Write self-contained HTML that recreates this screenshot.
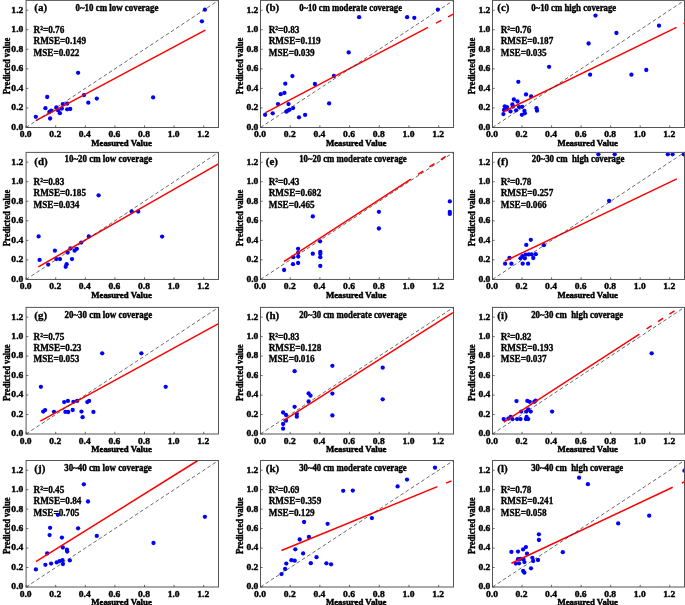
<!DOCTYPE html>
<html lang="en"><head><meta charset="utf-8"><title>Figure</title>
<style>
html,body{margin:0;padding:0;background:#fff;}
body{width:685px;height:605px;overflow:hidden;}
svg{display:block;}
text{font-family:"Liberation Serif", "DejaVu Serif", serif;font-weight:bold;fill:#000;}
.tk{font-size:9.2px;stroke:#000;stroke-width:0.4px;}
.lb{font-size:9.8px;stroke:#000;stroke-width:0.4px;}
.st{stroke-width:0.32px;}
.pl{font-size:11px;stroke:#000;stroke-width:0.3px;}
.al{font-size:9px;stroke:#000;stroke-width:0.45px;}
.yl{font-size:10.3px;stroke:#000;stroke-width:0.4px;}
.fr{fill:none;stroke:#555;stroke-width:1;}
.tm{stroke:#444;stroke-width:0.8;}
.dg{stroke:#2a2a2a;stroke-width:0.7;stroke-dasharray:3.7 2.5;fill:none;}
.rl{stroke:#ff0000;stroke-width:1.5;fill:none;}
.pt{fill:#0000ff;}
</style></head><body>
<svg width="685" height="605" viewBox="0 0 685 605">
<rect width="685" height="605" fill="#fff"/>
<g id="panel-a">
<clipPath id="cp-a"><rect x="26.1" y="0.4" width="192.4" height="127.1"/></clipPath>
<g clip-path="url(#cp-a)"><circle class="pt" cx="35.8" cy="116.8" r="2.15"/><circle class="pt" cx="45.4" cy="108.2" r="2.15"/><circle class="pt" cx="47.2" cy="97" r="2.15"/><circle class="pt" cx="49.4" cy="111.9" r="2.15"/><circle class="pt" cx="51.1" cy="110.7" r="2.15"/><circle class="pt" cx="50.1" cy="118.5" r="2.15"/><circle class="pt" cx="56.4" cy="107.5" r="2.15"/><circle class="pt" cx="58.1" cy="110.4" r="2.15"/><circle class="pt" cx="59.9" cy="113.2" r="2.15"/><circle class="pt" cx="61.8" cy="108.5" r="2.15"/><circle class="pt" cx="62.8" cy="104.1" r="2.15"/><circle class="pt" cx="67.2" cy="103.7" r="2.15"/><circle class="pt" cx="67.2" cy="109.3" r="2.15"/><circle class="pt" cx="70.2" cy="109" r="2.15"/><circle class="pt" cx="78.1" cy="72.8" r="2.15"/><circle class="pt" cx="84" cy="95.1" r="2.15"/><circle class="pt" cx="88.3" cy="102.7" r="2.15"/><circle class="pt" cx="96.8" cy="98.6" r="2.15"/><circle class="pt" cx="153.1" cy="97.4" r="2.15"/><circle class="pt" cx="201.9" cy="21.3" r="2.15"/><circle class="pt" cx="204.9" cy="9.65" r="2.15"/></g>
<line class="rl" x1="35.8" y1="120.6" x2="205.3" y2="30.1"/>
<line class="dg" x1="26.1" y1="127.5" x2="218.5" y2="0.4"/>
<rect class="fr" x="26.1" y="0.4" width="192.4" height="127.1"/>
<line class="tm" x1="26.1" y1="127.5" x2="26.1" y2="125.3"/><line class="tm" x1="26.1" y1="127.5" x2="28.3" y2="127.5"/><text class="tk" text-anchor="middle" transform="translate(25.6 137.2) scale(1.04 1)">0.0</text><text class="tk" text-anchor="end" transform="translate(23.3 129.9) scale(1.04 1)">0.0</text>
<line class="tm" x1="55.7" y1="127.5" x2="55.7" y2="125.3"/><line class="tm" x1="26.1" y1="107.95" x2="28.3" y2="107.95"/><text class="tk" text-anchor="middle" transform="translate(55.2 137.2) scale(1.04 1)">0.2</text><text class="tk" text-anchor="end" transform="translate(23.3 110.35) scale(1.04 1)">0.2</text>
<line class="tm" x1="85.3" y1="127.5" x2="85.3" y2="125.3"/><line class="tm" x1="26.1" y1="88.39" x2="28.3" y2="88.39"/><text class="tk" text-anchor="middle" transform="translate(84.8 137.2) scale(1.04 1)">0.4</text><text class="tk" text-anchor="end" transform="translate(23.3 90.79) scale(1.04 1)">0.4</text>
<line class="tm" x1="114.9" y1="127.5" x2="114.9" y2="125.3"/><line class="tm" x1="26.1" y1="68.84" x2="28.3" y2="68.84"/><text class="tk" text-anchor="middle" transform="translate(114.4 137.2) scale(1.04 1)">0.6</text><text class="tk" text-anchor="end" transform="translate(23.3 71.24) scale(1.04 1)">0.6</text>
<line class="tm" x1="144.5" y1="127.5" x2="144.5" y2="125.3"/><line class="tm" x1="26.1" y1="49.28" x2="28.3" y2="49.28"/><text class="tk" text-anchor="middle" transform="translate(144 137.2) scale(1.04 1)">0.8</text><text class="tk" text-anchor="end" transform="translate(23.3 51.68) scale(1.04 1)">0.8</text>
<line class="tm" x1="174.1" y1="127.5" x2="174.1" y2="125.3"/><line class="tm" x1="26.1" y1="29.73" x2="28.3" y2="29.73"/><text class="tk" text-anchor="middle" transform="translate(173.6 137.2) scale(1.04 1)">1.0</text><text class="tk" text-anchor="end" transform="translate(23.3 32.13) scale(1.04 1)">1.0</text>
<line class="tm" x1="203.7" y1="127.5" x2="203.7" y2="125.3"/><line class="tm" x1="26.1" y1="10.18" x2="28.3" y2="10.18"/><text class="tk" text-anchor="middle" transform="translate(203.2 137.2) scale(1.04 1)">1.2</text><text class="tk" text-anchor="end" transform="translate(23.3 12.58) scale(1.04 1)">1.2</text>
<text class="al" text-anchor="middle" textLength="60.6" lengthAdjust="spacingAndGlyphs" transform="translate(121.5 145.8)">Measured Value</text>
<text class="yl" text-anchor="middle" textLength="56.6" lengthAdjust="spacingAndGlyphs" transform="translate(9.8 65.95) rotate(-90)">Predicted value</text>
<text class="pl" transform="translate(34.3 11.3)">(a)</text>
<text class="lb" textLength="82.9" lengthAdjust="spacingAndGlyphs" transform="translate(75.5 11)">0~10 cm low coverage</text>
<text class="lb st" transform="translate(33.5 33) scale(0.94 1)">R²=0.76</text>
<text class="lb st" transform="translate(33.5 44.3) scale(0.94 1)">RMSE=0.149</text>
<text class="lb st" transform="translate(33.5 55.6) scale(0.94 1)">MSE=0.022</text>
</g>
<g id="panel-b">
<clipPath id="cp-b"><rect x="260.5" y="0.4" width="193" height="127.1"/></clipPath>
<g clip-path="url(#cp-b)"><circle class="pt" cx="265.1" cy="114.8" r="2.15"/><circle class="pt" cx="272.7" cy="113.3" r="2.15"/><circle class="pt" cx="278" cy="104.1" r="2.15"/><circle class="pt" cx="280.7" cy="94.2" r="2.15"/><circle class="pt" cx="284.4" cy="92.9" r="2.15"/><circle class="pt" cx="285.3" cy="83.7" r="2.15"/><circle class="pt" cx="286.3" cy="111.7" r="2.15"/><circle class="pt" cx="287.7" cy="110.7" r="2.15"/><circle class="pt" cx="288.5" cy="104.1" r="2.15"/><circle class="pt" cx="289.6" cy="109.7" r="2.15"/><circle class="pt" cx="293.1" cy="108.1" r="2.15"/><circle class="pt" cx="292.4" cy="76.1" r="2.15"/><circle class="pt" cx="299" cy="117.3" r="2.15"/><circle class="pt" cx="305.1" cy="114.9" r="2.15"/><circle class="pt" cx="314.9" cy="84" r="2.15"/><circle class="pt" cx="329.1" cy="103.4" r="2.15"/><circle class="pt" cx="333.9" cy="76" r="2.15"/><circle class="pt" cx="359.1" cy="17.2" r="2.15"/><circle class="pt" cx="407.1" cy="17.2" r="2.15"/><circle class="pt" cx="414.3" cy="17.8" r="2.15"/><circle class="pt" cx="437.9" cy="9.6" r="2.15"/><circle class="pt" cx="348.7" cy="52.4" r="2.15"/></g>
<line class="rl" x1="265.1" y1="112.9" x2="428" y2="27.3"/>
<clipPath id="cq-b"><rect x="260" y="-0.1" width="194" height="128.1"/></clipPath>
<line class="rl" clip-path="url(#cq-b)" stroke-dasharray="6 7.6" x1="436" y1="23.2" x2="454" y2="13.7"/>
<line class="dg" x1="260.5" y1="127.5" x2="453.5" y2="0.4"/>
<rect class="fr" x="260.5" y="0.4" width="193" height="127.1"/>
<line class="tm" x1="260.5" y1="127.5" x2="260.5" y2="125.3"/><line class="tm" x1="260.5" y1="127.5" x2="262.7" y2="127.5"/><text class="tk" text-anchor="middle" transform="translate(260 137.2) scale(1.04 1)">0.0</text><text class="tk" text-anchor="end" transform="translate(258.4 129.9) scale(1.04 1)">0.0</text>
<line class="tm" x1="290.19" y1="127.5" x2="290.19" y2="125.3"/><line class="tm" x1="260.5" y1="107.95" x2="262.7" y2="107.95"/><text class="tk" text-anchor="middle" transform="translate(289.69 137.2) scale(1.04 1)">0.2</text><text class="tk" text-anchor="end" transform="translate(258.4 110.35) scale(1.04 1)">0.2</text>
<line class="tm" x1="319.88" y1="127.5" x2="319.88" y2="125.3"/><line class="tm" x1="260.5" y1="88.39" x2="262.7" y2="88.39"/><text class="tk" text-anchor="middle" transform="translate(319.38 137.2) scale(1.04 1)">0.4</text><text class="tk" text-anchor="end" transform="translate(258.4 90.79) scale(1.04 1)">0.4</text>
<line class="tm" x1="349.58" y1="127.5" x2="349.58" y2="125.3"/><line class="tm" x1="260.5" y1="68.84" x2="262.7" y2="68.84"/><text class="tk" text-anchor="middle" transform="translate(349.08 137.2) scale(1.04 1)">0.6</text><text class="tk" text-anchor="end" transform="translate(258.4 71.24) scale(1.04 1)">0.6</text>
<line class="tm" x1="379.27" y1="127.5" x2="379.27" y2="125.3"/><line class="tm" x1="260.5" y1="49.28" x2="262.7" y2="49.28"/><text class="tk" text-anchor="middle" transform="translate(378.77 137.2) scale(1.04 1)">0.8</text><text class="tk" text-anchor="end" transform="translate(258.4 51.68) scale(1.04 1)">0.8</text>
<line class="tm" x1="408.96" y1="127.5" x2="408.96" y2="125.3"/><line class="tm" x1="260.5" y1="29.73" x2="262.7" y2="29.73"/><text class="tk" text-anchor="middle" transform="translate(408.46 137.2) scale(1.04 1)">1.0</text><text class="tk" text-anchor="end" transform="translate(258.4 32.13) scale(1.04 1)">1.0</text>
<line class="tm" x1="438.65" y1="127.5" x2="438.65" y2="125.3"/><line class="tm" x1="260.5" y1="10.18" x2="262.7" y2="10.18"/><text class="tk" text-anchor="middle" transform="translate(438.15 137.2) scale(1.04 1)">1.2</text><text class="tk" text-anchor="end" transform="translate(258.4 12.58) scale(1.04 1)">1.2</text>
<text class="al" text-anchor="middle" textLength="60.6" lengthAdjust="spacingAndGlyphs" transform="translate(356.2 145.8)">Measured Value</text>
<text class="yl" text-anchor="middle" textLength="56.6" lengthAdjust="spacingAndGlyphs" transform="translate(242.7 65.95) rotate(-90)">Predicted value</text>
<text class="pl" transform="translate(265.8 11.3)">(b)</text>
<text class="lb" textLength="102.8" lengthAdjust="spacingAndGlyphs" transform="translate(299.2 11)">0~10 cm moderate coverage</text>
<text class="lb st" transform="translate(268.7 33) scale(0.94 1)">R²=0.83</text>
<text class="lb st" transform="translate(268.7 44.3) scale(0.94 1)">RMSE=0.119</text>
<text class="lb st" transform="translate(268.7 55.6) scale(0.94 1)">MSE=0.039</text>
</g>
<g id="panel-c">
<clipPath id="cp-c"><rect x="492.5" y="0.4" width="192" height="127.1"/></clipPath>
<g clip-path="url(#cp-c)"><circle class="pt" cx="503.4" cy="114.1" r="2.15"/><circle class="pt" cx="504" cy="110" r="2.15"/><circle class="pt" cx="504.8" cy="106.3" r="2.15"/><circle class="pt" cx="507" cy="107.1" r="2.15"/><circle class="pt" cx="506.6" cy="109.3" r="2.15"/><circle class="pt" cx="510.5" cy="111.4" r="2.15"/><circle class="pt" cx="512.4" cy="104.4" r="2.15"/><circle class="pt" cx="512.9" cy="106.6" r="2.15"/><circle class="pt" cx="513.9" cy="99.5" r="2.15"/><circle class="pt" cx="516.1" cy="110.3" r="2.15"/><circle class="pt" cx="517.5" cy="101.5" r="2.15"/><circle class="pt" cx="519" cy="107.1" r="2.15"/><circle class="pt" cx="518.3" cy="81.8" r="2.15"/><circle class="pt" cx="522.2" cy="106.8" r="2.15"/><circle class="pt" cx="521.9" cy="114.8" r="2.15"/><circle class="pt" cx="524.4" cy="111" r="2.15"/><circle class="pt" cx="524.8" cy="113.3" r="2.15"/><circle class="pt" cx="526" cy="94.4" r="2.15"/><circle class="pt" cx="531.1" cy="96.4" r="2.15"/><circle class="pt" cx="536.5" cy="108.2" r="2.15"/><circle class="pt" cx="537" cy="110.7" r="2.15"/><circle class="pt" cx="549.1" cy="66.8" r="2.15"/><circle class="pt" cx="590.1" cy="74.7" r="2.15"/><circle class="pt" cx="595.5" cy="15.6" r="2.15"/><circle class="pt" cx="588.6" cy="43.5" r="2.15"/><circle class="pt" cx="616.4" cy="33" r="2.15"/><circle class="pt" cx="659" cy="25.7" r="2.15"/><circle class="pt" cx="631.4" cy="74.7" r="2.15"/><circle class="pt" cx="646.3" cy="70" r="2.15"/></g>
<line class="rl" x1="503.7" y1="111.4" x2="676.5" y2="27.3"/>
<line class="dg" x1="492.5" y1="127.5" x2="684.5" y2="0.4"/>
<rect class="fr" x="492.5" y="0.4" width="192" height="127.1"/>
<clipPath id="cq-c"><rect x="492" y="-0.1" width="193" height="128.1"/></clipPath>
<line class="rl" clip-path="url(#cq-c)" stroke-dasharray="6 7.6" x1="683.6" y1="23.8" x2="690" y2="20.7"/>
<line class="tm" x1="492.5" y1="127.5" x2="492.5" y2="125.3"/><line class="tm" x1="492.5" y1="127.5" x2="494.7" y2="127.5"/><text class="tk" text-anchor="middle" transform="translate(492 137.2) scale(1.04 1)">0.0</text><text class="tk" text-anchor="end" transform="translate(490.4 129.9) scale(1.04 1)">0.0</text>
<line class="tm" x1="522.04" y1="127.5" x2="522.04" y2="125.3"/><line class="tm" x1="492.5" y1="107.95" x2="494.7" y2="107.95"/><text class="tk" text-anchor="middle" transform="translate(521.54 137.2) scale(1.04 1)">0.2</text><text class="tk" text-anchor="end" transform="translate(490.4 110.35) scale(1.04 1)">0.2</text>
<line class="tm" x1="551.58" y1="127.5" x2="551.58" y2="125.3"/><line class="tm" x1="492.5" y1="88.39" x2="494.7" y2="88.39"/><text class="tk" text-anchor="middle" transform="translate(551.08 137.2) scale(1.04 1)">0.4</text><text class="tk" text-anchor="end" transform="translate(490.4 90.79) scale(1.04 1)">0.4</text>
<line class="tm" x1="581.12" y1="127.5" x2="581.12" y2="125.3"/><line class="tm" x1="492.5" y1="68.84" x2="494.7" y2="68.84"/><text class="tk" text-anchor="middle" transform="translate(580.62 137.2) scale(1.04 1)">0.6</text><text class="tk" text-anchor="end" transform="translate(490.4 71.24) scale(1.04 1)">0.6</text>
<line class="tm" x1="610.65" y1="127.5" x2="610.65" y2="125.3"/><line class="tm" x1="492.5" y1="49.28" x2="494.7" y2="49.28"/><text class="tk" text-anchor="middle" transform="translate(610.15 137.2) scale(1.04 1)">0.8</text><text class="tk" text-anchor="end" transform="translate(490.4 51.68) scale(1.04 1)">0.8</text>
<line class="tm" x1="640.19" y1="127.5" x2="640.19" y2="125.3"/><line class="tm" x1="492.5" y1="29.73" x2="494.7" y2="29.73"/><text class="tk" text-anchor="middle" transform="translate(639.69 137.2) scale(1.04 1)">1.0</text><text class="tk" text-anchor="end" transform="translate(490.4 32.13) scale(1.04 1)">1.0</text>
<line class="tm" x1="669.73" y1="127.5" x2="669.73" y2="125.3"/><line class="tm" x1="492.5" y1="10.18" x2="494.7" y2="10.18"/><text class="tk" text-anchor="middle" transform="translate(669.23 137.2) scale(1.04 1)">1.2</text><text class="tk" text-anchor="end" transform="translate(490.4 12.58) scale(1.04 1)">1.2</text>
<text class="al" text-anchor="middle" textLength="60.6" lengthAdjust="spacingAndGlyphs" transform="translate(587.7 145.8)">Measured Value</text>
<text class="yl" text-anchor="middle" textLength="56.6" lengthAdjust="spacingAndGlyphs" transform="translate(474.7 65.95) rotate(-90)">Predicted value</text>
<text class="pl" transform="translate(497.3 11.3)">(c)</text>
<text class="lb" textLength="85" lengthAdjust="spacingAndGlyphs" transform="translate(531.2 11)">0~10 cm high coverage</text>
<text class="lb st" transform="translate(500.7 33) scale(0.94 1)">R²=0.76</text>
<text class="lb st" transform="translate(500.7 44.3) scale(0.94 1)">RMSE=0.187</text>
<text class="lb st" transform="translate(500.7 55.6) scale(0.94 1)">MSE=0.035</text>
</g>
<g id="panel-d">
<clipPath id="cp-d"><rect x="26.1" y="152.4" width="192.4" height="127.05"/></clipPath>
<g clip-path="url(#cp-d)"><circle class="pt" cx="38.6" cy="236.4" r="2.15"/><circle class="pt" cx="39.6" cy="259.9" r="2.15"/><circle class="pt" cx="48.2" cy="264.6" r="2.15"/><circle class="pt" cx="54.9" cy="250.7" r="2.15"/><circle class="pt" cx="56.4" cy="259.1" r="2.15"/><circle class="pt" cx="60" cy="259.1" r="2.15"/><circle class="pt" cx="65.7" cy="266.8" r="2.15"/><circle class="pt" cx="66.6" cy="264.2" r="2.15"/><circle class="pt" cx="67.6" cy="252.5" r="2.15"/><circle class="pt" cx="70.5" cy="248.4" r="2.15"/><circle class="pt" cx="72" cy="259.1" r="2.15"/><circle class="pt" cx="74.6" cy="250.7" r="2.15"/><circle class="pt" cx="76.8" cy="248.8" r="2.15"/><circle class="pt" cx="81.2" cy="242.6" r="2.15"/><circle class="pt" cx="88.8" cy="236.4" r="2.15"/><circle class="pt" cx="98.6" cy="195.3" r="2.15"/><circle class="pt" cx="131.7" cy="211.4" r="2.15"/><circle class="pt" cx="138.2" cy="211.6" r="2.15"/><circle class="pt" cx="162.1" cy="236.6" r="2.15"/></g>
<line class="rl" x1="38.4" y1="266.8" x2="218.5" y2="163.9"/>
<line class="dg" x1="26.1" y1="279.45" x2="218.5" y2="152.4"/>
<rect class="fr" x="26.1" y="152.4" width="192.4" height="127.05"/>
<line class="tm" x1="26.1" y1="279.45" x2="26.1" y2="277.25"/><line class="tm" x1="26.1" y1="279.45" x2="28.3" y2="279.45"/><text class="tk" text-anchor="middle" transform="translate(25.6 289.15) scale(1.04 1)">0.0</text><text class="tk" text-anchor="end" transform="translate(23.3 281.85) scale(1.04 1)">0.0</text>
<line class="tm" x1="55.7" y1="279.45" x2="55.7" y2="277.25"/><line class="tm" x1="26.1" y1="259.9" x2="28.3" y2="259.9"/><text class="tk" text-anchor="middle" transform="translate(55.2 289.15) scale(1.04 1)">0.2</text><text class="tk" text-anchor="end" transform="translate(23.3 262.3) scale(1.04 1)">0.2</text>
<line class="tm" x1="85.3" y1="279.45" x2="85.3" y2="277.25"/><line class="tm" x1="26.1" y1="240.36" x2="28.3" y2="240.36"/><text class="tk" text-anchor="middle" transform="translate(84.8 289.15) scale(1.04 1)">0.4</text><text class="tk" text-anchor="end" transform="translate(23.3 242.76) scale(1.04 1)">0.4</text>
<line class="tm" x1="114.9" y1="279.45" x2="114.9" y2="277.25"/><line class="tm" x1="26.1" y1="220.81" x2="28.3" y2="220.81"/><text class="tk" text-anchor="middle" transform="translate(114.4 289.15) scale(1.04 1)">0.6</text><text class="tk" text-anchor="end" transform="translate(23.3 223.21) scale(1.04 1)">0.6</text>
<line class="tm" x1="144.5" y1="279.45" x2="144.5" y2="277.25"/><line class="tm" x1="26.1" y1="201.27" x2="28.3" y2="201.27"/><text class="tk" text-anchor="middle" transform="translate(144 289.15) scale(1.04 1)">0.8</text><text class="tk" text-anchor="end" transform="translate(23.3 203.67) scale(1.04 1)">0.8</text>
<line class="tm" x1="174.1" y1="279.45" x2="174.1" y2="277.25"/><line class="tm" x1="26.1" y1="181.72" x2="28.3" y2="181.72"/><text class="tk" text-anchor="middle" transform="translate(173.6 289.15) scale(1.04 1)">1.0</text><text class="tk" text-anchor="end" transform="translate(23.3 184.12) scale(1.04 1)">1.0</text>
<line class="tm" x1="203.7" y1="279.45" x2="203.7" y2="277.25"/><line class="tm" x1="26.1" y1="162.17" x2="28.3" y2="162.17"/><text class="tk" text-anchor="middle" transform="translate(203.2 289.15) scale(1.04 1)">1.2</text><text class="tk" text-anchor="end" transform="translate(23.3 164.57) scale(1.04 1)">1.2</text>
<text class="al" text-anchor="middle" textLength="60.6" lengthAdjust="spacingAndGlyphs" transform="translate(121.5 297.75)">Measured Value</text>
<text class="yl" text-anchor="middle" textLength="56.6" lengthAdjust="spacingAndGlyphs" transform="translate(9.8 217.93) rotate(-90)">Predicted value</text>
<text class="pl" transform="translate(34.3 164.9)">(d)</text>
<text class="lb" textLength="87.6" lengthAdjust="spacingAndGlyphs" transform="translate(64.5 162.4)">10~20 cm low coverage</text>
<text class="lb st" transform="translate(33.5 185.1) scale(0.94 1)">R²=0.83</text>
<text class="lb st" transform="translate(33.5 196.4) scale(0.94 1)">RMSE=0.185</text>
<text class="lb st" transform="translate(33.5 207.7) scale(0.94 1)">MSE=0.034</text>
</g>
<g id="panel-e">
<clipPath id="cp-e"><rect x="260.5" y="152.4" width="193" height="127.05"/></clipPath>
<g clip-path="url(#cp-e)"><circle class="pt" cx="284.1" cy="270" r="2.15"/><circle class="pt" cx="293" cy="264.2" r="2.15"/><circle class="pt" cx="293.3" cy="257.2" r="2.15"/><circle class="pt" cx="298.1" cy="263" r="2.15"/><circle class="pt" cx="298.2" cy="256.6" r="2.15"/><circle class="pt" cx="298.1" cy="252.8" r="2.15"/><circle class="pt" cx="298.1" cy="248.8" r="2.15"/><circle class="pt" cx="312.8" cy="253.7" r="2.15"/><circle class="pt" cx="312.8" cy="216.4" r="2.15"/><circle class="pt" cx="320.1" cy="241.3" r="2.15"/><circle class="pt" cx="320.3" cy="251.8" r="2.15"/><circle class="pt" cx="320.3" cy="253.7" r="2.15"/><circle class="pt" cx="320.3" cy="257.2" r="2.15"/><circle class="pt" cx="320.3" cy="265.9" r="2.15"/><circle class="pt" cx="378.9" cy="211.8" r="2.15"/><circle class="pt" cx="378.9" cy="228.5" r="2.15"/><circle class="pt" cx="449.8" cy="201.4" r="2.15"/><circle class="pt" cx="449.8" cy="212" r="2.15"/><circle class="pt" cx="449.8" cy="213.9" r="2.15"/></g>
<line class="rl" x1="284.1" y1="261.5" x2="410.9" y2="179.1"/>
<clipPath id="cq-e"><rect x="260" y="151.9" width="194" height="128.05"/></clipPath>
<line class="rl" clip-path="url(#cq-e)" stroke-dasharray="6 7.6" x1="418" y1="174.4" x2="456" y2="149.7"/>
<line class="dg" x1="260.5" y1="279.45" x2="453.5" y2="152.4"/>
<rect class="fr" x="260.5" y="152.4" width="193" height="127.05"/>
<line class="tm" x1="260.5" y1="279.45" x2="260.5" y2="277.25"/><line class="tm" x1="260.5" y1="279.45" x2="262.7" y2="279.45"/><text class="tk" text-anchor="middle" transform="translate(260 289.15) scale(1.04 1)">0.0</text><text class="tk" text-anchor="end" transform="translate(258.4 281.85) scale(1.04 1)">0.0</text>
<line class="tm" x1="290.19" y1="279.45" x2="290.19" y2="277.25"/><line class="tm" x1="260.5" y1="259.9" x2="262.7" y2="259.9"/><text class="tk" text-anchor="middle" transform="translate(289.69 289.15) scale(1.04 1)">0.2</text><text class="tk" text-anchor="end" transform="translate(258.4 262.3) scale(1.04 1)">0.2</text>
<line class="tm" x1="319.88" y1="279.45" x2="319.88" y2="277.25"/><line class="tm" x1="260.5" y1="240.36" x2="262.7" y2="240.36"/><text class="tk" text-anchor="middle" transform="translate(319.38 289.15) scale(1.04 1)">0.4</text><text class="tk" text-anchor="end" transform="translate(258.4 242.76) scale(1.04 1)">0.4</text>
<line class="tm" x1="349.58" y1="279.45" x2="349.58" y2="277.25"/><line class="tm" x1="260.5" y1="220.81" x2="262.7" y2="220.81"/><text class="tk" text-anchor="middle" transform="translate(349.08 289.15) scale(1.04 1)">0.6</text><text class="tk" text-anchor="end" transform="translate(258.4 223.21) scale(1.04 1)">0.6</text>
<line class="tm" x1="379.27" y1="279.45" x2="379.27" y2="277.25"/><line class="tm" x1="260.5" y1="201.27" x2="262.7" y2="201.27"/><text class="tk" text-anchor="middle" transform="translate(378.77 289.15) scale(1.04 1)">0.8</text><text class="tk" text-anchor="end" transform="translate(258.4 203.67) scale(1.04 1)">0.8</text>
<line class="tm" x1="408.96" y1="279.45" x2="408.96" y2="277.25"/><line class="tm" x1="260.5" y1="181.72" x2="262.7" y2="181.72"/><text class="tk" text-anchor="middle" transform="translate(408.46 289.15) scale(1.04 1)">1.0</text><text class="tk" text-anchor="end" transform="translate(258.4 184.12) scale(1.04 1)">1.0</text>
<line class="tm" x1="438.65" y1="279.45" x2="438.65" y2="277.25"/><line class="tm" x1="260.5" y1="162.17" x2="262.7" y2="162.17"/><text class="tk" text-anchor="middle" transform="translate(438.15 289.15) scale(1.04 1)">1.2</text><text class="tk" text-anchor="end" transform="translate(258.4 164.57) scale(1.04 1)">1.2</text>
<text class="al" text-anchor="middle" textLength="60.6" lengthAdjust="spacingAndGlyphs" transform="translate(356.2 297.75)">Measured Value</text>
<text class="yl" text-anchor="middle" textLength="56.6" lengthAdjust="spacingAndGlyphs" transform="translate(242.7 217.93) rotate(-90)">Predicted value</text>
<text class="pl" transform="translate(265.8 164.9)">(e)</text>
<text class="lb" textLength="107.5" lengthAdjust="spacingAndGlyphs" transform="translate(299.2 162.4)">10~20 cm moderate coverage</text>
<text class="lb st" transform="translate(268.7 185.1) scale(0.94 1)">R²=0.43</text>
<text class="lb st" transform="translate(268.7 196.4) scale(0.94 1)">RMSE=0.682</text>
<text class="lb st" transform="translate(268.7 207.7) scale(0.94 1)">MSE=0.465</text>
</g>
<g id="panel-f">
<clipPath id="cp-f"><rect x="492.5" y="152.4" width="192" height="127.05"/></clipPath>
<g clip-path="url(#cp-f)"><circle class="pt" cx="505.1" cy="263.7" r="2.15"/><circle class="pt" cx="509.5" cy="257.9" r="2.15"/><circle class="pt" cx="511.4" cy="263.7" r="2.15"/><circle class="pt" cx="520.5" cy="258.3" r="2.15"/><circle class="pt" cx="522.4" cy="256.1" r="2.15"/><circle class="pt" cx="522.7" cy="263.7" r="2.15"/><circle class="pt" cx="524.8" cy="258.3" r="2.15"/><circle class="pt" cx="525.6" cy="254.7" r="2.15"/><circle class="pt" cx="526.3" cy="244.9" r="2.15"/><circle class="pt" cx="528.1" cy="263.7" r="2.15"/><circle class="pt" cx="528.8" cy="254.4" r="2.15"/><circle class="pt" cx="530.8" cy="239.8" r="2.15"/><circle class="pt" cx="531.7" cy="254.4" r="2.15"/><circle class="pt" cx="533.3" cy="258" r="2.15"/><circle class="pt" cx="535.8" cy="254.2" r="2.15"/><circle class="pt" cx="543.8" cy="245.2" r="2.15"/><circle class="pt" cx="598.4" cy="154.3" r="2.15"/><circle class="pt" cx="614.7" cy="154.3" r="2.15"/><circle class="pt" cx="667.8" cy="154.3" r="2.15"/><circle class="pt" cx="672.6" cy="154.3" r="2.15"/><circle class="pt" cx="683.8" cy="154.3" r="2.15"/><circle class="pt" cx="609.1" cy="201" r="2.15"/></g>
<line class="rl" x1="505.1" y1="261" x2="676.8" y2="178.9"/>
<line class="dg" x1="492.5" y1="279.45" x2="684.5" y2="152.4"/>
<rect class="fr" x="492.5" y="152.4" width="192" height="127.05"/>
<line class="tm" x1="492.5" y1="279.45" x2="492.5" y2="277.25"/><line class="tm" x1="492.5" y1="279.45" x2="494.7" y2="279.45"/><text class="tk" text-anchor="middle" transform="translate(492 289.15) scale(1.04 1)">0.0</text><text class="tk" text-anchor="end" transform="translate(490.4 281.85) scale(1.04 1)">0.0</text>
<line class="tm" x1="522.04" y1="279.45" x2="522.04" y2="277.25"/><line class="tm" x1="492.5" y1="259.9" x2="494.7" y2="259.9"/><text class="tk" text-anchor="middle" transform="translate(521.54 289.15) scale(1.04 1)">0.2</text><text class="tk" text-anchor="end" transform="translate(490.4 262.3) scale(1.04 1)">0.2</text>
<line class="tm" x1="551.58" y1="279.45" x2="551.58" y2="277.25"/><line class="tm" x1="492.5" y1="240.36" x2="494.7" y2="240.36"/><text class="tk" text-anchor="middle" transform="translate(551.08 289.15) scale(1.04 1)">0.4</text><text class="tk" text-anchor="end" transform="translate(490.4 242.76) scale(1.04 1)">0.4</text>
<line class="tm" x1="581.12" y1="279.45" x2="581.12" y2="277.25"/><line class="tm" x1="492.5" y1="220.81" x2="494.7" y2="220.81"/><text class="tk" text-anchor="middle" transform="translate(580.62 289.15) scale(1.04 1)">0.6</text><text class="tk" text-anchor="end" transform="translate(490.4 223.21) scale(1.04 1)">0.6</text>
<line class="tm" x1="610.65" y1="279.45" x2="610.65" y2="277.25"/><line class="tm" x1="492.5" y1="201.27" x2="494.7" y2="201.27"/><text class="tk" text-anchor="middle" transform="translate(610.15 289.15) scale(1.04 1)">0.8</text><text class="tk" text-anchor="end" transform="translate(490.4 203.67) scale(1.04 1)">0.8</text>
<line class="tm" x1="640.19" y1="279.45" x2="640.19" y2="277.25"/><line class="tm" x1="492.5" y1="181.72" x2="494.7" y2="181.72"/><text class="tk" text-anchor="middle" transform="translate(639.69 289.15) scale(1.04 1)">1.0</text><text class="tk" text-anchor="end" transform="translate(490.4 184.12) scale(1.04 1)">1.0</text>
<line class="tm" x1="669.73" y1="279.45" x2="669.73" y2="277.25"/><line class="tm" x1="492.5" y1="162.17" x2="494.7" y2="162.17"/><text class="tk" text-anchor="middle" transform="translate(669.23 289.15) scale(1.04 1)">1.2</text><text class="tk" text-anchor="end" transform="translate(490.4 164.57) scale(1.04 1)">1.2</text>
<text class="al" text-anchor="middle" textLength="60.6" lengthAdjust="spacingAndGlyphs" transform="translate(587.7 297.75)">Measured Value</text>
<text class="yl" text-anchor="middle" textLength="56.6" lengthAdjust="spacingAndGlyphs" transform="translate(474.7 217.93) rotate(-90)">Predicted value</text>
<text class="pl" transform="translate(497.3 164.9)">(f)</text>
<text class="lb" textLength="92.7" lengthAdjust="spacingAndGlyphs" transform="translate(531.7 162.4)">20~30 cm&#160; high coverage</text>
<text class="lb st" transform="translate(500.7 185.1) scale(0.94 1)">R²=0.78</text>
<text class="lb st" transform="translate(500.7 196.4) scale(0.94 1)">RMSE=0.257</text>
<text class="lb st" transform="translate(500.7 207.7) scale(0.94 1)">MSE=0.066</text>
</g>
<g id="panel-g">
<clipPath id="cp-g"><rect x="26.1" y="307.4" width="192.4" height="126.6"/></clipPath>
<g clip-path="url(#cp-g)"><circle class="pt" cx="40.9" cy="386.8" r="2.15"/><circle class="pt" cx="43.2" cy="411.6" r="2.15"/><circle class="pt" cx="45.1" cy="410.1" r="2.15"/><circle class="pt" cx="54" cy="411.8" r="2.15"/><circle class="pt" cx="64.2" cy="402.1" r="2.15"/><circle class="pt" cx="65.4" cy="411.9" r="2.15"/><circle class="pt" cx="67.9" cy="400.9" r="2.15"/><circle class="pt" cx="68.2" cy="412" r="2.15"/><circle class="pt" cx="72.7" cy="410" r="2.15"/><circle class="pt" cx="73.4" cy="401.8" r="2.15"/><circle class="pt" cx="77.1" cy="400.9" r="2.15"/><circle class="pt" cx="81.5" cy="411.6" r="2.15"/><circle class="pt" cx="82.6" cy="417.2" r="2.15"/><circle class="pt" cx="87.3" cy="402.1" r="2.15"/><circle class="pt" cx="89.1" cy="400.9" r="2.15"/><circle class="pt" cx="93.4" cy="411.9" r="2.15"/><circle class="pt" cx="102.2" cy="353.3" r="2.15"/><circle class="pt" cx="141.4" cy="353.3" r="2.15"/><circle class="pt" cx="165.7" cy="386.8" r="2.15"/></g>
<line class="rl" x1="40.3" y1="421.1" x2="218.5" y2="323.7"/>
<line class="dg" x1="26.1" y1="434" x2="218.5" y2="307.4"/>
<rect class="fr" x="26.1" y="307.4" width="192.4" height="126.6"/>
<line class="tm" x1="26.1" y1="434" x2="26.1" y2="431.8"/><line class="tm" x1="26.1" y1="434" x2="28.3" y2="434"/><text class="tk" text-anchor="middle" transform="translate(25.6 443.7) scale(1.04 1)">0.0</text><text class="tk" text-anchor="end" transform="translate(23.3 436.4) scale(1.04 1)">0.0</text>
<line class="tm" x1="55.7" y1="434" x2="55.7" y2="431.8"/><line class="tm" x1="26.1" y1="414.52" x2="28.3" y2="414.52"/><text class="tk" text-anchor="middle" transform="translate(55.2 443.7) scale(1.04 1)">0.2</text><text class="tk" text-anchor="end" transform="translate(23.3 416.92) scale(1.04 1)">0.2</text>
<line class="tm" x1="85.3" y1="434" x2="85.3" y2="431.8"/><line class="tm" x1="26.1" y1="395.05" x2="28.3" y2="395.05"/><text class="tk" text-anchor="middle" transform="translate(84.8 443.7) scale(1.04 1)">0.4</text><text class="tk" text-anchor="end" transform="translate(23.3 397.45) scale(1.04 1)">0.4</text>
<line class="tm" x1="114.9" y1="434" x2="114.9" y2="431.8"/><line class="tm" x1="26.1" y1="375.57" x2="28.3" y2="375.57"/><text class="tk" text-anchor="middle" transform="translate(114.4 443.7) scale(1.04 1)">0.6</text><text class="tk" text-anchor="end" transform="translate(23.3 377.97) scale(1.04 1)">0.6</text>
<line class="tm" x1="144.5" y1="434" x2="144.5" y2="431.8"/><line class="tm" x1="26.1" y1="356.09" x2="28.3" y2="356.09"/><text class="tk" text-anchor="middle" transform="translate(144 443.7) scale(1.04 1)">0.8</text><text class="tk" text-anchor="end" transform="translate(23.3 358.49) scale(1.04 1)">0.8</text>
<line class="tm" x1="174.1" y1="434" x2="174.1" y2="431.8"/><line class="tm" x1="26.1" y1="336.62" x2="28.3" y2="336.62"/><text class="tk" text-anchor="middle" transform="translate(173.6 443.7) scale(1.04 1)">1.0</text><text class="tk" text-anchor="end" transform="translate(23.3 339.02) scale(1.04 1)">1.0</text>
<line class="tm" x1="203.7" y1="434" x2="203.7" y2="431.8"/><line class="tm" x1="26.1" y1="317.14" x2="28.3" y2="317.14"/><text class="tk" text-anchor="middle" transform="translate(203.2 443.7) scale(1.04 1)">1.2</text><text class="tk" text-anchor="end" transform="translate(23.3 319.54) scale(1.04 1)">1.2</text>
<text class="al" text-anchor="middle" textLength="60.6" lengthAdjust="spacingAndGlyphs" transform="translate(121.5 452.3)">Measured Value</text>
<text class="yl" text-anchor="middle" textLength="56.6" lengthAdjust="spacingAndGlyphs" transform="translate(9.8 372.7) rotate(-90)">Predicted value</text>
<text class="pl" transform="translate(34.3 318.8)">(g)</text>
<text class="lb" textLength="87.6" lengthAdjust="spacingAndGlyphs" transform="translate(64.5 317.5)">20~30 cm low coverage</text>
<text class="lb st" transform="translate(33.5 339.7) scale(0.94 1)">R²=0.75</text>
<text class="lb st" transform="translate(33.5 351) scale(0.94 1)">RMSE=0.23</text>
<text class="lb st" transform="translate(33.5 362.3) scale(0.94 1)">MSE=0.053</text>
</g>
<g id="panel-h">
<clipPath id="cp-h"><rect x="260.5" y="307.4" width="193" height="126.6"/></clipPath>
<g clip-path="url(#cp-h)"><circle class="pt" cx="283.1" cy="428.7" r="2.15"/><circle class="pt" cx="283.1" cy="424" r="2.15"/><circle class="pt" cx="286" cy="420.7" r="2.15"/><circle class="pt" cx="283.1" cy="412.5" r="2.15"/><circle class="pt" cx="286" cy="415" r="2.15"/><circle class="pt" cx="294.6" cy="406.8" r="2.15"/><circle class="pt" cx="294.6" cy="371.2" r="2.15"/><circle class="pt" cx="296.8" cy="413.8" r="2.15"/><circle class="pt" cx="296.8" cy="416.7" r="2.15"/><circle class="pt" cx="308.6" cy="401.5" r="2.15"/><circle class="pt" cx="308.6" cy="393.4" r="2.15"/><circle class="pt" cx="310.5" cy="395.7" r="2.15"/><circle class="pt" cx="332.4" cy="393.6" r="2.15"/><circle class="pt" cx="332.4" cy="415.4" r="2.15"/><circle class="pt" cx="332.4" cy="365.8" r="2.15"/><circle class="pt" cx="382.7" cy="367.7" r="2.15"/><circle class="pt" cx="382.7" cy="399.3" r="2.15"/></g>
<line class="rl" x1="283.4" y1="420.7" x2="452.9" y2="312.6"/>
<line class="dg" x1="260.5" y1="434" x2="453.5" y2="307.4"/>
<rect class="fr" x="260.5" y="307.4" width="193" height="126.6"/>
<line class="tm" x1="260.5" y1="434" x2="260.5" y2="431.8"/><line class="tm" x1="260.5" y1="434" x2="262.7" y2="434"/><text class="tk" text-anchor="middle" transform="translate(260 443.7) scale(1.04 1)">0.0</text><text class="tk" text-anchor="end" transform="translate(258.4 436.4) scale(1.04 1)">0.0</text>
<line class="tm" x1="290.19" y1="434" x2="290.19" y2="431.8"/><line class="tm" x1="260.5" y1="414.52" x2="262.7" y2="414.52"/><text class="tk" text-anchor="middle" transform="translate(289.69 443.7) scale(1.04 1)">0.2</text><text class="tk" text-anchor="end" transform="translate(258.4 416.92) scale(1.04 1)">0.2</text>
<line class="tm" x1="319.88" y1="434" x2="319.88" y2="431.8"/><line class="tm" x1="260.5" y1="395.05" x2="262.7" y2="395.05"/><text class="tk" text-anchor="middle" transform="translate(319.38 443.7) scale(1.04 1)">0.4</text><text class="tk" text-anchor="end" transform="translate(258.4 397.45) scale(1.04 1)">0.4</text>
<line class="tm" x1="349.58" y1="434" x2="349.58" y2="431.8"/><line class="tm" x1="260.5" y1="375.57" x2="262.7" y2="375.57"/><text class="tk" text-anchor="middle" transform="translate(349.08 443.7) scale(1.04 1)">0.6</text><text class="tk" text-anchor="end" transform="translate(258.4 377.97) scale(1.04 1)">0.6</text>
<line class="tm" x1="379.27" y1="434" x2="379.27" y2="431.8"/><line class="tm" x1="260.5" y1="356.09" x2="262.7" y2="356.09"/><text class="tk" text-anchor="middle" transform="translate(378.77 443.7) scale(1.04 1)">0.8</text><text class="tk" text-anchor="end" transform="translate(258.4 358.49) scale(1.04 1)">0.8</text>
<line class="tm" x1="408.96" y1="434" x2="408.96" y2="431.8"/><line class="tm" x1="260.5" y1="336.62" x2="262.7" y2="336.62"/><text class="tk" text-anchor="middle" transform="translate(408.46 443.7) scale(1.04 1)">1.0</text><text class="tk" text-anchor="end" transform="translate(258.4 339.02) scale(1.04 1)">1.0</text>
<line class="tm" x1="438.65" y1="434" x2="438.65" y2="431.8"/><line class="tm" x1="260.5" y1="317.14" x2="262.7" y2="317.14"/><text class="tk" text-anchor="middle" transform="translate(438.15 443.7) scale(1.04 1)">1.2</text><text class="tk" text-anchor="end" transform="translate(258.4 319.54) scale(1.04 1)">1.2</text>
<text class="al" text-anchor="middle" textLength="60.6" lengthAdjust="spacingAndGlyphs" transform="translate(356.2 452.3)">Measured Value</text>
<text class="yl" text-anchor="middle" textLength="56.6" lengthAdjust="spacingAndGlyphs" transform="translate(242.7 372.7) rotate(-90)">Predicted value</text>
<text class="pl" transform="translate(265.8 318.8)">(h)</text>
<text class="lb" textLength="107.5" lengthAdjust="spacingAndGlyphs" transform="translate(299.2 317.5)">20~30 cm moderate coverage</text>
<text class="lb st" transform="translate(268.7 339.7) scale(0.94 1)">R²=0.83</text>
<text class="lb st" transform="translate(268.7 351) scale(0.94 1)">RMSE=0.128</text>
<text class="lb st" transform="translate(268.7 362.3) scale(0.94 1)">MSE=0.016</text>
</g>
<g id="panel-i">
<clipPath id="cp-i"><rect x="492.5" y="307.4" width="192" height="126.6"/></clipPath>
<g clip-path="url(#cp-i)"><circle class="pt" cx="503.7" cy="419.1" r="2.15"/><circle class="pt" cx="508.4" cy="418.6" r="2.15"/><circle class="pt" cx="510.7" cy="417" r="2.15"/><circle class="pt" cx="512.4" cy="419.1" r="2.15"/><circle class="pt" cx="516.5" cy="401.1" r="2.15"/><circle class="pt" cx="517.1" cy="419.1" r="2.15"/><circle class="pt" cx="520.5" cy="419.1" r="2.15"/><circle class="pt" cx="521.2" cy="411.6" r="2.15"/><circle class="pt" cx="525.9" cy="419.1" r="2.15"/><circle class="pt" cx="526.6" cy="417" r="2.15"/><circle class="pt" cx="526.3" cy="411.6" r="2.15"/><circle class="pt" cx="528.2" cy="419.1" r="2.15"/><circle class="pt" cx="527.3" cy="400.8" r="2.15"/><circle class="pt" cx="528.2" cy="409.4" r="2.15"/><circle class="pt" cx="529.7" cy="401.8" r="2.15"/><circle class="pt" cx="530.7" cy="411.6" r="2.15"/><circle class="pt" cx="534.3" cy="401.8" r="2.15"/><circle class="pt" cx="535.5" cy="400.7" r="2.15"/><circle class="pt" cx="552.1" cy="411.6" r="2.15"/><circle class="pt" cx="651.7" cy="353.3" r="2.15"/></g>
<line class="rl" x1="503.7" y1="422.1" x2="639.4" y2="334.2"/>
<clipPath id="cq-i"><rect x="492" y="306.9" width="193" height="127.6"/></clipPath>
<line class="rl" clip-path="url(#cq-i)" stroke-dasharray="6 7.6" x1="646.6" y1="328.9" x2="690" y2="300.8"/>
<line class="dg" x1="492.5" y1="434" x2="684.5" y2="307.4"/>
<rect class="fr" x="492.5" y="307.4" width="192" height="126.6"/>
<line class="tm" x1="492.5" y1="434" x2="492.5" y2="431.8"/><line class="tm" x1="492.5" y1="434" x2="494.7" y2="434"/><text class="tk" text-anchor="middle" transform="translate(492 443.7) scale(1.04 1)">0.0</text><text class="tk" text-anchor="end" transform="translate(490.4 436.4) scale(1.04 1)">0.0</text>
<line class="tm" x1="522.04" y1="434" x2="522.04" y2="431.8"/><line class="tm" x1="492.5" y1="414.52" x2="494.7" y2="414.52"/><text class="tk" text-anchor="middle" transform="translate(521.54 443.7) scale(1.04 1)">0.2</text><text class="tk" text-anchor="end" transform="translate(490.4 416.92) scale(1.04 1)">0.2</text>
<line class="tm" x1="551.58" y1="434" x2="551.58" y2="431.8"/><line class="tm" x1="492.5" y1="395.05" x2="494.7" y2="395.05"/><text class="tk" text-anchor="middle" transform="translate(551.08 443.7) scale(1.04 1)">0.4</text><text class="tk" text-anchor="end" transform="translate(490.4 397.45) scale(1.04 1)">0.4</text>
<line class="tm" x1="581.12" y1="434" x2="581.12" y2="431.8"/><line class="tm" x1="492.5" y1="375.57" x2="494.7" y2="375.57"/><text class="tk" text-anchor="middle" transform="translate(580.62 443.7) scale(1.04 1)">0.6</text><text class="tk" text-anchor="end" transform="translate(490.4 377.97) scale(1.04 1)">0.6</text>
<line class="tm" x1="610.65" y1="434" x2="610.65" y2="431.8"/><line class="tm" x1="492.5" y1="356.09" x2="494.7" y2="356.09"/><text class="tk" text-anchor="middle" transform="translate(610.15 443.7) scale(1.04 1)">0.8</text><text class="tk" text-anchor="end" transform="translate(490.4 358.49) scale(1.04 1)">0.8</text>
<line class="tm" x1="640.19" y1="434" x2="640.19" y2="431.8"/><line class="tm" x1="492.5" y1="336.62" x2="494.7" y2="336.62"/><text class="tk" text-anchor="middle" transform="translate(639.69 443.7) scale(1.04 1)">1.0</text><text class="tk" text-anchor="end" transform="translate(490.4 339.02) scale(1.04 1)">1.0</text>
<line class="tm" x1="669.73" y1="434" x2="669.73" y2="431.8"/><line class="tm" x1="492.5" y1="317.14" x2="494.7" y2="317.14"/><text class="tk" text-anchor="middle" transform="translate(669.23 443.7) scale(1.04 1)">1.2</text><text class="tk" text-anchor="end" transform="translate(490.4 319.54) scale(1.04 1)">1.2</text>
<text class="al" text-anchor="middle" textLength="60.6" lengthAdjust="spacingAndGlyphs" transform="translate(587.7 452.3)">Measured Value</text>
<text class="yl" text-anchor="middle" textLength="56.6" lengthAdjust="spacingAndGlyphs" transform="translate(474.7 372.7) rotate(-90)">Predicted value</text>
<text class="pl" transform="translate(497.3 318.8)">(i)</text>
<text class="lb" textLength="92" lengthAdjust="spacingAndGlyphs" transform="translate(531.2 317.5)">20~30 cm&#160; high coverage</text>
<text class="lb st" transform="translate(500.7 339.7) scale(0.94 1)">R²=0.82</text>
<text class="lb st" transform="translate(500.7 351) scale(0.94 1)">RMSE=0.193</text>
<text class="lb st" transform="translate(500.7 362.3) scale(0.94 1)">MSE=0.037</text>
</g>
<g id="panel-j">
<clipPath id="cp-j"><rect x="26.1" y="460.5" width="192.4" height="126.5"/></clipPath>
<g clip-path="url(#cp-j)"><circle class="pt" cx="35.9" cy="569.4" r="2.15"/><circle class="pt" cx="45.4" cy="564.8" r="2.15"/><circle class="pt" cx="47.2" cy="553.4" r="2.15"/><circle class="pt" cx="49.6" cy="535.1" r="2.15"/><circle class="pt" cx="50.1" cy="527.8" r="2.15"/><circle class="pt" cx="51.1" cy="563.6" r="2.15"/><circle class="pt" cx="56.7" cy="562.4" r="2.15"/><circle class="pt" cx="59.6" cy="561.1" r="2.15"/><circle class="pt" cx="61.9" cy="537.6" r="2.15"/><circle class="pt" cx="62.8" cy="547.5" r="2.15"/><circle class="pt" cx="62.5" cy="560.2" r="2.15"/><circle class="pt" cx="62.9" cy="564" r="2.15"/><circle class="pt" cx="66.9" cy="549.7" r="2.15"/><circle class="pt" cx="67.2" cy="551.6" r="2.15"/><circle class="pt" cx="69.8" cy="560.4" r="2.15"/><circle class="pt" cx="78.1" cy="528.3" r="2.15"/><circle class="pt" cx="96.8" cy="535.9" r="2.15"/><circle class="pt" cx="83.8" cy="484.3" r="2.15"/><circle class="pt" cx="88" cy="501.5" r="2.15"/><circle class="pt" cx="57.8" cy="514.8" r="2.15"/><circle class="pt" cx="153.5" cy="543" r="2.15"/><circle class="pt" cx="204.9" cy="516.8" r="2.15"/></g>
<line class="rl" x1="35.9" y1="561.7" x2="197.9" y2="460.5"/>
<line class="dg" x1="26.1" y1="587" x2="218.5" y2="460.5"/>
<rect class="fr" x="26.1" y="460.5" width="192.4" height="126.5"/>
<line class="tm" x1="26.1" y1="587" x2="26.1" y2="584.8"/><line class="tm" x1="26.1" y1="587" x2="28.3" y2="587"/><text class="tk" text-anchor="middle" transform="translate(25.6 596.7) scale(1.04 1)">0.0</text><text class="tk" text-anchor="end" transform="translate(23.3 589.4) scale(1.04 1)">0.0</text>
<line class="tm" x1="55.7" y1="587" x2="55.7" y2="584.8"/><line class="tm" x1="26.1" y1="567.54" x2="28.3" y2="567.54"/><text class="tk" text-anchor="middle" transform="translate(55.2 596.7) scale(1.04 1)">0.2</text><text class="tk" text-anchor="end" transform="translate(23.3 569.94) scale(1.04 1)">0.2</text>
<line class="tm" x1="85.3" y1="587" x2="85.3" y2="584.8"/><line class="tm" x1="26.1" y1="548.08" x2="28.3" y2="548.08"/><text class="tk" text-anchor="middle" transform="translate(84.8 596.7) scale(1.04 1)">0.4</text><text class="tk" text-anchor="end" transform="translate(23.3 550.48) scale(1.04 1)">0.4</text>
<line class="tm" x1="114.9" y1="587" x2="114.9" y2="584.8"/><line class="tm" x1="26.1" y1="528.62" x2="28.3" y2="528.62"/><text class="tk" text-anchor="middle" transform="translate(114.4 596.7) scale(1.04 1)">0.6</text><text class="tk" text-anchor="end" transform="translate(23.3 531.02) scale(1.04 1)">0.6</text>
<line class="tm" x1="144.5" y1="587" x2="144.5" y2="584.8"/><line class="tm" x1="26.1" y1="509.15" x2="28.3" y2="509.15"/><text class="tk" text-anchor="middle" transform="translate(144 596.7) scale(1.04 1)">0.8</text><text class="tk" text-anchor="end" transform="translate(23.3 511.55) scale(1.04 1)">0.8</text>
<line class="tm" x1="174.1" y1="587" x2="174.1" y2="584.8"/><line class="tm" x1="26.1" y1="489.69" x2="28.3" y2="489.69"/><text class="tk" text-anchor="middle" transform="translate(173.6 596.7) scale(1.04 1)">1.0</text><text class="tk" text-anchor="end" transform="translate(23.3 492.09) scale(1.04 1)">1.0</text>
<line class="tm" x1="203.7" y1="587" x2="203.7" y2="584.8"/><line class="tm" x1="26.1" y1="470.23" x2="28.3" y2="470.23"/><text class="tk" text-anchor="middle" transform="translate(203.2 596.7) scale(1.04 1)">1.2</text><text class="tk" text-anchor="end" transform="translate(23.3 472.63) scale(1.04 1)">1.2</text>
<text class="al" text-anchor="middle" textLength="60.6" lengthAdjust="spacingAndGlyphs" transform="translate(121.5 605.3)">Measured Value</text>
<text class="yl" text-anchor="middle" textLength="56.6" lengthAdjust="spacingAndGlyphs" transform="translate(9.8 525.75) rotate(-90)">Predicted value</text>
<text class="pl" transform="translate(34.3 471.9)">(j)</text>
<text class="lb" textLength="87.6" lengthAdjust="spacingAndGlyphs" transform="translate(64.2 470.6)">30~40 cm low coverage</text>
<text class="lb st" transform="translate(33.5 493.1) scale(0.94 1)">R²=0.45</text>
<text class="lb st" transform="translate(33.5 504.4) scale(0.94 1)">RMSE=0.84</text>
<text class="lb st" transform="translate(33.5 515.7) scale(0.94 1)">MSE=0.705</text>
</g>
<g id="panel-k">
<clipPath id="cp-k"><rect x="260.5" y="460.5" width="193" height="126.5"/></clipPath>
<g clip-path="url(#cp-k)"><circle class="pt" cx="281.5" cy="574.1" r="2.15"/><circle class="pt" cx="285.1" cy="569" r="2.15"/><circle class="pt" cx="286.3" cy="563.6" r="2.15"/><circle class="pt" cx="291.4" cy="560.2" r="2.15"/><circle class="pt" cx="294.7" cy="560.7" r="2.15"/><circle class="pt" cx="295.3" cy="549.3" r="2.15"/><circle class="pt" cx="299.7" cy="539.5" r="2.15"/><circle class="pt" cx="303.1" cy="553.4" r="2.15"/><circle class="pt" cx="304.1" cy="522" r="2.15"/><circle class="pt" cx="308.9" cy="537" r="2.15"/><circle class="pt" cx="310.8" cy="563.2" r="2.15"/><circle class="pt" cx="316.5" cy="557.2" r="2.15"/><circle class="pt" cx="326.4" cy="563.3" r="2.15"/><circle class="pt" cx="331.1" cy="564.3" r="2.15"/><circle class="pt" cx="327.6" cy="523.8" r="2.15"/><circle class="pt" cx="435" cy="467.7" r="2.15"/><circle class="pt" cx="407" cy="479.6" r="2.15"/><circle class="pt" cx="397.6" cy="486.4" r="2.15"/><circle class="pt" cx="352.8" cy="490.6" r="2.15"/><circle class="pt" cx="343.2" cy="490.8" r="2.15"/><circle class="pt" cx="371.9" cy="518.1" r="2.15"/></g>
<line class="rl" x1="281.5" y1="550.5" x2="437.4" y2="486.6"/>
<clipPath id="cq-k"><rect x="260" y="460" width="194" height="127.5"/></clipPath>
<line class="rl" clip-path="url(#cq-k)" stroke-dasharray="6 7.6" x1="446" y1="483.1" x2="460" y2="477.4"/>
<line class="dg" x1="260.5" y1="587" x2="453.5" y2="460.5"/>
<rect class="fr" x="260.5" y="460.5" width="193" height="126.5"/>
<line class="tm" x1="260.5" y1="587" x2="260.5" y2="584.8"/><line class="tm" x1="260.5" y1="587" x2="262.7" y2="587"/><text class="tk" text-anchor="middle" transform="translate(260 596.7) scale(1.04 1)">0.0</text><text class="tk" text-anchor="end" transform="translate(258.4 589.4) scale(1.04 1)">0.0</text>
<line class="tm" x1="290.19" y1="587" x2="290.19" y2="584.8"/><line class="tm" x1="260.5" y1="567.54" x2="262.7" y2="567.54"/><text class="tk" text-anchor="middle" transform="translate(289.69 596.7) scale(1.04 1)">0.2</text><text class="tk" text-anchor="end" transform="translate(258.4 569.94) scale(1.04 1)">0.2</text>
<line class="tm" x1="319.88" y1="587" x2="319.88" y2="584.8"/><line class="tm" x1="260.5" y1="548.08" x2="262.7" y2="548.08"/><text class="tk" text-anchor="middle" transform="translate(319.38 596.7) scale(1.04 1)">0.4</text><text class="tk" text-anchor="end" transform="translate(258.4 550.48) scale(1.04 1)">0.4</text>
<line class="tm" x1="349.58" y1="587" x2="349.58" y2="584.8"/><line class="tm" x1="260.5" y1="528.62" x2="262.7" y2="528.62"/><text class="tk" text-anchor="middle" transform="translate(349.08 596.7) scale(1.04 1)">0.6</text><text class="tk" text-anchor="end" transform="translate(258.4 531.02) scale(1.04 1)">0.6</text>
<line class="tm" x1="379.27" y1="587" x2="379.27" y2="584.8"/><line class="tm" x1="260.5" y1="509.15" x2="262.7" y2="509.15"/><text class="tk" text-anchor="middle" transform="translate(378.77 596.7) scale(1.04 1)">0.8</text><text class="tk" text-anchor="end" transform="translate(258.4 511.55) scale(1.04 1)">0.8</text>
<line class="tm" x1="408.96" y1="587" x2="408.96" y2="584.8"/><line class="tm" x1="260.5" y1="489.69" x2="262.7" y2="489.69"/><text class="tk" text-anchor="middle" transform="translate(408.46 596.7) scale(1.04 1)">1.0</text><text class="tk" text-anchor="end" transform="translate(258.4 492.09) scale(1.04 1)">1.0</text>
<line class="tm" x1="438.65" y1="587" x2="438.65" y2="584.8"/><line class="tm" x1="260.5" y1="470.23" x2="262.7" y2="470.23"/><text class="tk" text-anchor="middle" transform="translate(438.15 596.7) scale(1.04 1)">1.2</text><text class="tk" text-anchor="end" transform="translate(258.4 472.63) scale(1.04 1)">1.2</text>
<text class="al" text-anchor="middle" textLength="60.6" lengthAdjust="spacingAndGlyphs" transform="translate(356.2 605.3)">Measured Value</text>
<text class="yl" text-anchor="middle" textLength="56.6" lengthAdjust="spacingAndGlyphs" transform="translate(242.7 525.75) rotate(-90)">Predicted value</text>
<text class="pl" transform="translate(265.8 471.9)">(k)</text>
<text class="lb" textLength="107.5" lengthAdjust="spacingAndGlyphs" transform="translate(299.2 470.6)">30~40 cm moderate coverage</text>
<text class="lb st" transform="translate(268.7 493.1) scale(0.94 1)">R²=0.69</text>
<text class="lb st" transform="translate(268.7 504.4) scale(0.94 1)">RMSE=0.359</text>
<text class="lb st" transform="translate(268.7 515.7) scale(0.94 1)">MSE=0.129</text>
</g>
<g id="panel-l">
<clipPath id="cp-l"><rect x="492.5" y="460.5" width="192" height="126.5"/></clipPath>
<g clip-path="url(#cp-l)"><circle class="pt" cx="511.4" cy="551.9" r="2.15"/><circle class="pt" cx="515.8" cy="563.6" r="2.15"/><circle class="pt" cx="518" cy="551.6" r="2.15"/><circle class="pt" cx="518" cy="559.2" r="2.15"/><circle class="pt" cx="519" cy="563.3" r="2.15"/><circle class="pt" cx="520.5" cy="558.8" r="2.15"/><circle class="pt" cx="523.1" cy="549.4" r="2.15"/><circle class="pt" cx="523.4" cy="559.2" r="2.15"/><circle class="pt" cx="524.4" cy="562.1" r="2.15"/><circle class="pt" cx="523.1" cy="570.9" r="2.15"/><circle class="pt" cx="524.4" cy="572.7" r="2.15"/><circle class="pt" cx="525.9" cy="547.1" r="2.15"/><circle class="pt" cx="527" cy="553.7" r="2.15"/><circle class="pt" cx="531" cy="568.3" r="2.15"/><circle class="pt" cx="532.4" cy="557.8" r="2.15"/><circle class="pt" cx="533.2" cy="561.1" r="2.15"/><circle class="pt" cx="538" cy="560" r="2.15"/><circle class="pt" cx="538.9" cy="540" r="2.15"/><circle class="pt" cx="538.9" cy="534.3" r="2.15"/><circle class="pt" cx="562.8" cy="552.2" r="2.15"/><circle class="pt" cx="579.1" cy="477.7" r="2.15"/><circle class="pt" cx="587.9" cy="484.2" r="2.15"/><circle class="pt" cx="618.2" cy="523.4" r="2.15"/><circle class="pt" cx="649.2" cy="515.7" r="2.15"/><circle class="pt" cx="684.4" cy="470.7" r="2.15"/></g>
<line class="rl" x1="511.4" y1="563.2" x2="672.7" y2="487.3"/>
<line class="dg" x1="492.5" y1="587" x2="684.5" y2="460.5"/>
<rect class="fr" x="492.5" y="460.5" width="192" height="126.5"/>
<clipPath id="cq-l"><rect x="492" y="460" width="193" height="127.5"/></clipPath>
<line class="rl" clip-path="url(#cq-l)" stroke-dasharray="6 7.6" x1="681.9" y1="483" x2="690" y2="479.2"/>
<line class="tm" x1="492.5" y1="587" x2="492.5" y2="584.8"/><line class="tm" x1="492.5" y1="587" x2="494.7" y2="587"/><text class="tk" text-anchor="middle" transform="translate(492 596.7) scale(1.04 1)">0.0</text><text class="tk" text-anchor="end" transform="translate(490.4 589.4) scale(1.04 1)">0.0</text>
<line class="tm" x1="522.04" y1="587" x2="522.04" y2="584.8"/><line class="tm" x1="492.5" y1="567.54" x2="494.7" y2="567.54"/><text class="tk" text-anchor="middle" transform="translate(521.54 596.7) scale(1.04 1)">0.2</text><text class="tk" text-anchor="end" transform="translate(490.4 569.94) scale(1.04 1)">0.2</text>
<line class="tm" x1="551.58" y1="587" x2="551.58" y2="584.8"/><line class="tm" x1="492.5" y1="548.08" x2="494.7" y2="548.08"/><text class="tk" text-anchor="middle" transform="translate(551.08 596.7) scale(1.04 1)">0.4</text><text class="tk" text-anchor="end" transform="translate(490.4 550.48) scale(1.04 1)">0.4</text>
<line class="tm" x1="581.12" y1="587" x2="581.12" y2="584.8"/><line class="tm" x1="492.5" y1="528.62" x2="494.7" y2="528.62"/><text class="tk" text-anchor="middle" transform="translate(580.62 596.7) scale(1.04 1)">0.6</text><text class="tk" text-anchor="end" transform="translate(490.4 531.02) scale(1.04 1)">0.6</text>
<line class="tm" x1="610.65" y1="587" x2="610.65" y2="584.8"/><line class="tm" x1="492.5" y1="509.15" x2="494.7" y2="509.15"/><text class="tk" text-anchor="middle" transform="translate(610.15 596.7) scale(1.04 1)">0.8</text><text class="tk" text-anchor="end" transform="translate(490.4 511.55) scale(1.04 1)">0.8</text>
<line class="tm" x1="640.19" y1="587" x2="640.19" y2="584.8"/><line class="tm" x1="492.5" y1="489.69" x2="494.7" y2="489.69"/><text class="tk" text-anchor="middle" transform="translate(639.69 596.7) scale(1.04 1)">1.0</text><text class="tk" text-anchor="end" transform="translate(490.4 492.09) scale(1.04 1)">1.0</text>
<line class="tm" x1="669.73" y1="587" x2="669.73" y2="584.8"/><line class="tm" x1="492.5" y1="470.23" x2="494.7" y2="470.23"/><text class="tk" text-anchor="middle" transform="translate(669.23 596.7) scale(1.04 1)">1.2</text><text class="tk" text-anchor="end" transform="translate(490.4 472.63) scale(1.04 1)">1.2</text>
<text class="al" text-anchor="middle" textLength="60.6" lengthAdjust="spacingAndGlyphs" transform="translate(587.7 605.3)">Measured Value</text>
<text class="yl" text-anchor="middle" textLength="56.6" lengthAdjust="spacingAndGlyphs" transform="translate(474.7 525.75) rotate(-90)">Predicted value</text>
<text class="pl" transform="translate(497.3 471.9)">(l)</text>
<text class="lb" textLength="92" lengthAdjust="spacingAndGlyphs" transform="translate(531.2 470.6)">30~40 cm&#160; high coverage</text>
<text class="lb st" transform="translate(500.7 493.1) scale(0.94 1)">R²=0.78</text>
<text class="lb st" transform="translate(500.7 504.4) scale(0.94 1)">RMSE=0.241</text>
<text class="lb st" transform="translate(500.7 515.7) scale(0.94 1)">MSE=0.058</text>
</g>
</svg>
</body></html>
